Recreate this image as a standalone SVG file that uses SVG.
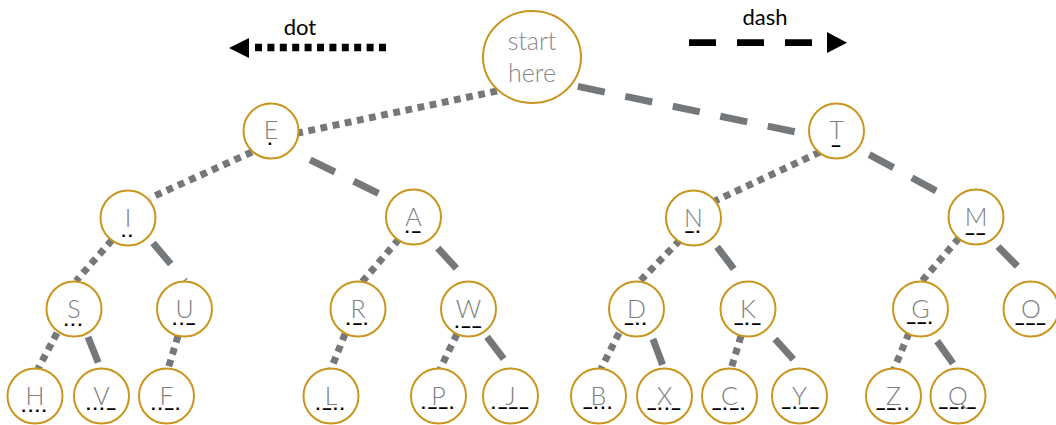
<svg xmlns="http://www.w3.org/2000/svg" width="1056" height="425" viewBox="0 0 1056 425">
<style>
.bg{fill:#ffffff}
.nd{fill:#ffffff;stroke:#c8961e;stroke-width:2}
.lt{font-family:Lato,"Open Sans","Liberation Sans",sans-serif;font-weight:300;font-size:25px;fill:#7e7e7e;text-anchor:middle}
.st{font-family:Lato,"Open Sans","Liberation Sans",sans-serif;font-weight:300;font-size:25px;fill:#878787;text-anchor:middle}
.mo{font-family:"Liberation Sans",Arial,sans-serif;font-weight:bold;font-size:17px;fill:#000000;text-anchor:middle;letter-spacing:1.2px}
.lg{font-family:Lato,"Open Sans","Liberation Sans",sans-serif;font-size:22px;fill:#000000;text-anchor:middle}
.dt{fill:none;stroke:#75787b;stroke-width:7;stroke-dasharray:6.8 5.6}
.ds{fill:none;stroke:#75787b;stroke-width:7;stroke-dasharray:27.5 21}
</style>
<rect class="bg" x="0" y="0" width="1056" height="425"/>
<g id="legend">
  <text class="lg" x="300" y="35">dot</text>
  <line x1="255" y1="47.5" x2="386" y2="47.5" stroke="#000" stroke-width="7.5" stroke-dasharray="7 5.4"/>
  <polygon points="229,48 249,38 249,58" fill="#000"/>
  <text class="lg" x="765" y="25">dash</text>
  <line x1="689" y1="42.7" x2="812" y2="42.7" stroke="#000" stroke-width="6.7" stroke-dasharray="27 21"/>
  <polygon points="847,42.7 827,32 827,53" fill="#000"/>
</g>
<g id="connectors">
  <line class="dt" x1="497" y1="91" x2="298" y2="133"/>
  <line class="ds" x1="571" y1="85" x2="810" y2="135" stroke-dashoffset="41.5"/>
  <line class="dt" x1="252" y1="152" x2="150" y2="198"/>
  <line class="ds" x1="294" y1="152" x2="390" y2="199" stroke-dashoffset="30.5"/>
  <line class="dt" x1="820" y1="152" x2="715" y2="201"/>
  <line class="ds" x1="859" y1="149" x2="953" y2="200" stroke-dashoffset="36.8"/>
  <line class="dt" x1="112" y1="240" x2="76" y2="281"/>
  <line class="ds" x1="148.5" y1="237.6" x2="185" y2="281" stroke-dashoffset="41.5"/>
  <line class="dt" x1="399" y1="239" x2="362" y2="282"/>
  <line class="ds" x1="429.7" y1="239.3" x2="468" y2="281" stroke-dashoffset="36.5"/>
  <line class="dt" x1="680" y1="240" x2="640" y2="281"/>
  <line class="ds" x1="711" y1="239" x2="743.5" y2="281.5" stroke-dashoffset="38.5"/>
  <line class="dt" x1="959" y1="238" x2="922" y2="281"/>
  <line class="ds" x1="991" y1="239.5" x2="1032" y2="281" stroke-dashoffset="38.5"/>
  <line class="dt" x1="57" y1="333" x2="38" y2="369"/>
  <line class="ds" x1="86.5" y1="333.3" x2="100.6" y2="368.5" stroke-dashoffset="44.5"/>
  <line class="dt" x1="178" y1="336" x2="168" y2="369"/>
  <line class="dt" x1="345" y1="334" x2="331" y2="369"/>
  <line class="dt" x1="457" y1="334" x2="440" y2="369"/>
  <line class="ds" x1="483.4" y1="332.2" x2="511" y2="368.5" stroke-dashoffset="42.5"/>
  <line class="dt" x1="619" y1="333" x2="601" y2="369"/>
  <line class="ds" x1="650.5" y1="332.5" x2="664" y2="368.5" stroke-dashoffset="41.5"/>
  <line class="dt" x1="741" y1="336" x2="731" y2="369"/>
  <line class="ds" x1="766.3" y1="329.3" x2="801.5" y2="368.5" stroke-dashoffset="35.5"/>
  <line class="dt" x1="909" y1="333" x2="894" y2="369"/>
  <line class="ds" x1="931.9" y1="333.8" x2="956.6" y2="368.5" stroke-dashoffset="39.5"/>
</g>
<g id="node-start"><ellipse class="nd" cx="532" cy="57" rx="49" ry="46"/><text class="st" x="532" y="50">start</text><text class="st" x="532" y="82">here</text></g>
<g id="node-E"><circle class="nd" cx="271" cy="131" r="27.5"/><text class="lt" x="271" y="139">E</text><text class="mo" x="271" y="149">·</text></g>
<g id="node-T"><circle class="nd" cx="836.5" cy="131" r="27.5"/><text class="lt" x="836.5" y="139">T</text><text class="mo" x="836.5" y="151">–</text></g>
<g id="node-I"><circle class="nd" cx="128" cy="218" r="27.5"/><text class="lt" x="128" y="227">I</text><text class="mo" x="128" y="241">··</text></g>
<g id="node-A"><circle class="nd" cx="413.5" cy="217" r="27.5"/><text class="lt" x="413.5" y="226">A</text><text class="mo" x="413.5" y="237">·–</text></g>
<g id="node-N"><circle class="nd" cx="693.5" cy="218" r="27.5"/><text class="lt" x="693.5" y="227">N</text><text class="mo" x="693.5" y="237">–·</text></g>
<g id="node-M"><circle class="nd" cx="976" cy="217" r="27.5"/><text class="lt" x="976" y="226">M</text><text class="mo" x="976" y="239">––</text></g>
<g id="node-S"><circle class="nd" cx="74" cy="309" r="27.5"/><text class="lt" x="74" y="318">S</text><text class="mo" x="74" y="330">···</text></g>
<g id="node-U"><circle class="nd" cx="184.5" cy="309" r="27.5"/><text class="lt" x="184.5" y="318">U</text><text class="mo" x="184.5" y="329">··–</text></g>
<g id="node-R"><circle class="nd" cx="358" cy="309" r="27.5"/><text class="lt" x="358" y="318">R</text><text class="mo" x="358" y="329">·–·</text></g>
<g id="node-W"><circle class="nd" cx="468.5" cy="309" r="27.5"/><text class="lt" x="468.5" y="318">W</text><text class="mo" x="468.5" y="332">·––</text></g>
<g id="node-D"><circle class="nd" cx="636.5" cy="309" r="27.5"/><text class="lt" x="636.5" y="318">D</text><text class="mo" x="636.5" y="329">–··</text></g>
<g id="node-K"><circle class="nd" cx="748" cy="309" r="27.5"/><text class="lt" x="748" y="318">K</text><text class="mo" x="748" y="329">–·–</text></g>
<g id="node-G"><circle class="nd" cx="920.5" cy="309" r="27.5"/><text class="lt" x="920.5" y="318">G</text><text class="mo" x="920.5" y="328">––·</text></g>
<g id="node-O"><circle class="nd" cx="1031" cy="309" r="27.5"/><text class="lt" x="1031" y="318">O</text><text class="mo" x="1031" y="329">–––</text></g>
<g id="node-H"><circle class="nd" cx="35" cy="396" r="27.5"/><text class="lt" x="35" y="405">H</text><text class="mo" x="35" y="416">····</text></g>
<g id="node-V"><circle class="nd" cx="101.5" cy="396" r="27.5"/><text class="lt" x="101.5" y="405">V</text><text class="mo" x="101.5" y="414">···–</text></g>
<g id="node-F"><circle class="nd" cx="166.5" cy="396" r="27.5"/><text class="lt" x="166.5" y="405">F</text><text class="mo" x="166.5" y="414">··–·</text></g>
<g id="node-L"><circle class="nd" cx="331" cy="396" r="27.5"/><text class="lt" x="331" y="405">L</text><text class="mo" x="331" y="414">·–··</text></g>
<g id="node-P"><circle class="nd" cx="438.5" cy="396" r="27.5"/><text class="lt" x="438.5" y="405">P</text><text class="mo" x="438.5" y="413">·––·</text></g>
<g id="node-J"><circle class="nd" cx="510.5" cy="396" r="27.5"/><text class="lt" x="510.5" y="405">J</text><text class="mo" x="510.5" y="413">·–––</text></g>
<g id="node-B"><circle class="nd" cx="598.5" cy="396" r="27.5"/><text class="lt" x="598.5" y="405">B</text><text class="mo" x="598.5" y="413">–···</text></g>
<g id="node-X"><circle class="nd" cx="664.5" cy="396" r="27.5"/><text class="lt" x="664.5" y="405">X</text><text class="mo" x="664.5" y="414">–··–</text></g>
<g id="node-C"><circle class="nd" cx="729.5" cy="396" r="27.5"/><text class="lt" x="729.5" y="405">C</text><text class="mo" x="729.5" y="414">–·–·</text></g>
<g id="node-Y"><circle class="nd" cx="799.5" cy="396" r="27.5"/><text class="lt" x="799.5" y="405">Y</text><text class="mo" x="801" y="413">–·––</text></g>
<g id="node-Z"><circle class="nd" cx="893.5" cy="396" r="27.5"/><text class="lt" x="893.5" y="405">Z</text><text class="mo" x="893.5" y="414">––··</text></g>
<g id="node-Q"><circle class="nd" cx="958" cy="396" r="27.5"/><text class="lt" x="958" y="405">Q</text><text class="mo" x="958" y="413">––·–</text></g>
</svg>
